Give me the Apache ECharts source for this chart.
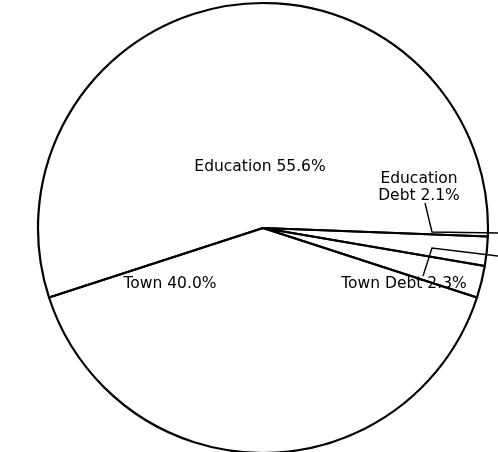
<!DOCTYPE html>
<html>
<head>
<meta charset="utf-8">
<script src="https://cdn.jsdelivr.net/npm/echarts@6/dist/echarts.min.js"></script>
<style>
html,body{margin:0;padding:0;background:#fff;}
#chart{width:498px;height:452px;}
</style>
</head>
<body>
<div id="chart"></div>
<script>
// Data (percent of budget)
var categories = ['Education', 'Education Debt', 'Town Debt', 'Town'];
var displayNames = ['Education', 'Education\nDebt', 'Town Debt', 'Town'];
var values = [55.6, 2.1, 2.3, 40.0];

// Label placement (layout only, not data)
var labelPos = [
  {x: 260, y: 167},
  {x: 419, y: 187},
  {x: 404, y: 284},
  {x: 170, y: 284}
];
var leaderPts = [
  null,
  [[498, 233], [432, 232], [425, 203]],
  [[498, 256], [432, 248], [423, 276]],
  null
];

var chart = echarts.init(document.getElementById('chart'), null, {renderer: 'canvas'});
var seriesData = categories.map(function (c, i) {
  return {
    name: c,
    value: values[i],
    labelLine: {show: leaderPts[i] !== null}
  };
});

chart.setOption({
  backgroundColor: '#ffffff',
  animation: false,
  series: [{
    type: 'pie',
    center: [263, 228],
    radius: ['0%', 225],
    startAngle: 198,
    clockwise: true,
    avoidLabelOverlap: false,
    silent: true,
    data: seriesData,
    itemStyle: {color: 'rgba(255,255,255,0)', borderColor: '#000000', borderWidth: 2.2},
    emphasis: {disabled: true},
    label: {
      show: true,
      position: 'outside',
      color: '#000000',
      fontFamily: 'DejaVu Sans',
      fontSize: 15.5,
      lineHeight: 17,
      align: 'center',
      formatter: function (p) {
        return displayNames[p.dataIndex] + ' ' + values[p.dataIndex].toFixed(1) + '%';
      }
    },
    labelLine: {
      show: true,
      lineStyle: {color: '#000000', width: 1.4}
    },
    labelLayout: function (p) {
      var i = p.dataIndex;
      var o = {x: labelPos[i].x, y: labelPos[i].y, align: 'center', verticalAlign: 'middle'};
      if (leaderPts[i]) o.labelLinePoints = leaderPts[i];
      return o;
    }
  }]
});
</script>
</body>
</html>
